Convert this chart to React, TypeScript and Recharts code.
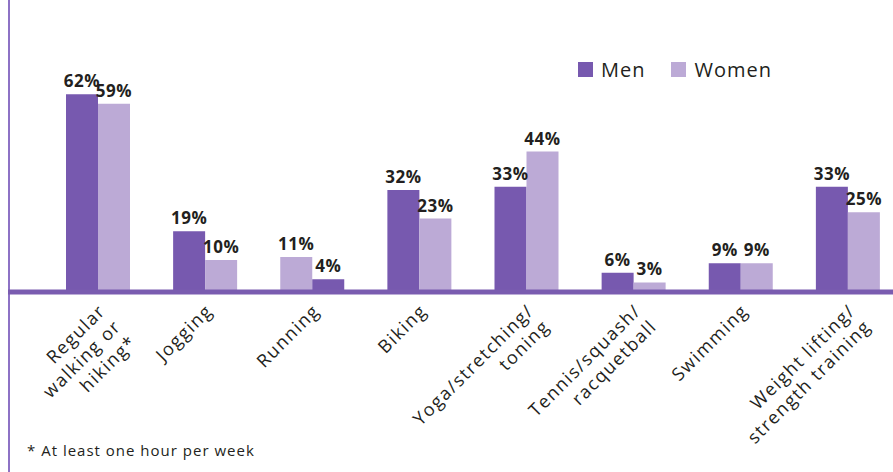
import { Bar, BarChart, Cell, LabelList, XAxis, YAxis } from "recharts";

const categories = [
  "Regular walking or hiking*",
  "Jogging",
  "Running",
  "Biking",
  "Yoga/stretching/toning",
  "Tennis/squash/racquetball",
  "Swimming",
  "Weight lifting/strength training",
];

const tickLines = [
  ["Regular", "walking or", "hiking*"],
  ["Jogging"],
  ["Running"],
  ["Biking"],
  ["Yoga/stretching/", "toning"],
  ["Tennis/squash/", "racquetball"],
  ["Swimming"],
  ["Weight lifting/", "strength training"],
];

const men = [62, 19, 4, 32, 33, 6, 9, 33];
const women = [59, 10, 11, 23, 44, 3, 9, 25];

// the source draws women first for this one
const swapped = ["Running"];

const MEN = "#7759af";
const WOMEN = "#bcaad6";
const TEXT = "#231f20";
const FONT = "'Open Sans', sans-serif";

const data = categories.map((name, i) => {
  const flip = swapped.includes(name);
  return {
    name,
    lines: tickLines[i],
    left: flip ? women[i] : men[i],
    right: flip ? men[i] : women[i],
    leftFill: flip ? WOMEN : MEN,
    rightFill: flip ? MEN : WOMEN,
  };
});

function CategoryTick(props: any) {
  const { x, y, index } = props;
  const lines = data[index]?.lines ?? [];
  const ax = x + 9;
  const ay = y + 20;
  return (
    <text
      x={ax}
      y={ay}
      transform={`rotate(-45, ${ax}, ${ay})`}
      textAnchor="end"
      fontSize={18}
      letterSpacing={1.5}
      fontFamily={FONT}
      fill={TEXT}
    >
      {lines.map((l: string, k: number) => (
        <tspan key={k} x={ax} dy={k === 0 ? 0 : 22}>
          {l}
        </tspan>
      ))}
    </text>
  );
}

function LegendBox() {
  const items = [
    { label: "Men", color: MEN },
    { label: "Women", color: WOMEN },
  ];
  return (
    <div
      style={{
        position: "absolute",
        left: 578,
        top: 56,
        display: "flex",
        alignItems: "center",
        fontFamily: FONT,
        fontSize: 20,
        letterSpacing: 1,
        color: TEXT,
      }}
    >
      {items.map((it, i) => (
        <div key={it.label} style={{ display: "flex", alignItems: "center", marginRight: i === 0 ? 26 : 0 }}>
          <span style={{ width: 15, height: 15, background: it.color, marginRight: 8, display: "inline-block" }} />
          <span>{it.label}</span>
        </div>
      ))}
    </div>
  );
}

const labelStyle = { fontSize: 17, fontWeight: 700, fontFamily: FONT, fill: TEXT, letterSpacing: 0.5 };

export default function App() {
  return (
    <div style={{ position: "absolute", left: 0, top: 0, width: 893, height: 472, overflow: "hidden", background: "#fff" }}>
      <div style={{ position: "absolute", left: 8, top: 0, width: 2, height: 472, background: "#8d72c5" }} />
      <BarChart
        width={901}
        height={472}
        data={data}
        margin={{ top: 0, right: 0, bottom: 0, left: 8 }}
        barSize={32}
        barGap={0}
      >
        <XAxis
          dataKey="name"
          interval={0}
          height={180}
          padding={{ left: 36, right: 0 }}
          axisLine={{ stroke: "#7a5cb0", strokeWidth: 5 }}
          tickLine={false}
          tickSize={0}
          tickMargin={0}
          tick={<CategoryTick />}
        />
        <YAxis hide domain={[0, 91.5]} />
        <Bar dataKey="left" name="Men" fill={MEN} isAnimationActive={false}>
          {data.map((d, i) => (
            <Cell key={i} fill={d.leftFill} />
          ))}
          <LabelList dataKey="left" position="top" offset={7} formatter={(v: any) => `${v}%`} style={labelStyle} />
        </Bar>
        <Bar dataKey="right" name="Women" fill={WOMEN} isAnimationActive={false}>
          {data.map((d, i) => (
            <Cell key={i} fill={d.rightFill} />
          ))}
          <LabelList dataKey="right" position="top" offset={7} formatter={(v: any) => `${v}%`} style={labelStyle} />
        </Bar>
      </BarChart>
      <LegendBox />
      <div style={{ position: "absolute", left: 27, top: 440, fontFamily: FONT, fontSize: 15, letterSpacing: 1, color: TEXT }}>
        * At least one hour per week
      </div>
    </div>
  );
}
